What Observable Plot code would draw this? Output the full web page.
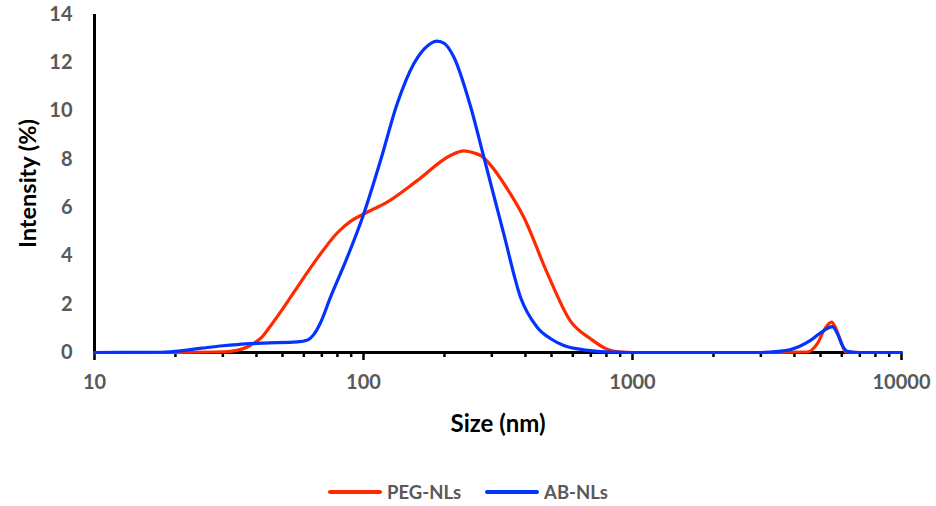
<!DOCTYPE html>
<html>
<head>
<meta charset="utf-8">
<script src="https://cdn.jsdelivr.net/npm/d3@7"></script>
<script src="https://cdn.jsdelivr.net/npm/@observablehq/plot@0.6"></script>
<style>
  body { margin: 0; background: #fff; font-family: Lato, "Open Sans", sans-serif; }
  #wrap { position: relative; width: 936px; height: 506px; }
  #legend { position: absolute; left: 0; top: 479px; width: 936px; height: 26px; display: flex; justify-content: center; align-items: center; gap: 0; font: bold 18.5px Lato, sans-serif; color: #595959; }
  .item { display: flex; align-items: center; margin: 0 12px; }
  .sw { width: 54px; height: 4px; margin-right: 5px; border-radius: 2px; }
</style>
</head>
<body>
<div id="wrap"><div id="chart"></div><div id="legend"></div></div>
<script>
// Series names and colours
const seriesNames = ["PEG-NLs", "AB-NLs"];
const seriesColors = ["#ff2a00", "#0433ff"];

// PEG-NLs (size nm, intensity %)
const pegSize = [10, 20, 28, 32, 35.5, 38, 42, 45.1, 50, 56.7, 67.3, 79.8, 90, 100.2, 122.5, 158.4, 210.5, 235.9, 260, 272.3, 300, 332.4, 394.4, 481.6, 588, 698, 800, 900, 1000, 3000, 4460, 4864, 5200, 5496, 5700, 5933, 6196, 7000, 10000];
const pegIntensity = [0, 0, 0.02, 0.05, 0.15, 0.3, 0.65, 1.1, 1.8, 2.7, 3.9, 4.95, 5.45, 5.74, 6.23, 7.12, 8.16, 8.35, 8.25, 8.16, 7.7, 7.0, 5.6, 3.3, 1.3, 0.57, 0.15, 0.02, 0, 0, 0.02, 0.37, 1.0, 1.26, 1.0, 0.5, 0.02, 0, 0];

// AB-NLs (size nm, intensity %)
const abSize = [10, 17, 20, 25, 30, 34, 42.6, 56.7, 62, 65.4, 69, 75.4, 87, 100.2, 115.7, 133.4, 153.8, 175, 187.9, 200, 216.6, 249.9, 280, 332.4, 383.4, 442, 500, 555.6, 650, 739, 900, 1000, 3000, 3258, 3865, 4590, 5129, 5525, 5781, 6023, 6286, 7000, 10000];
const abIntensity = [0, 0.01, 0.05, 0.18, 0.28, 0.33, 0.39, 0.44, 0.52, 0.75, 1.2, 2.29, 3.94, 5.74, 7.95, 10.3, 11.96, 12.75, 12.9, 12.8, 12.24, 10.2, 8.1, 4.9, 2.29, 1.05, 0.55, 0.29, 0.12, 0.05, 0.01, 0, 0, 0.02, 0.12, 0.5, 0.9, 1.07, 0.78, 0.3, 0.05, 0, 0];

// Axis ticks
const xMajorTicks = [10, 100, 1000, 10000];
const yTicks = [0, 2, 4, 6, 8, 10, 12, 14];
const xTitle = "Size (nm)";
const yTitle = "Intensity (%)";

const xMinorTicks = [];
for (const d of [10, 100, 1000]) for (let k = 2; k <= 9; k++) xMinorTicks.push(d * k);

const rows = [
  ...pegSize.map((s, i) => ({size: s, value: pegIntensity[i], series: seriesNames[0]})),
  ...abSize.map((s, i) => ({size: s, value: abIntensity[i], series: seriesNames[1]}))
];

const font = "Lato, 'Open Sans', sans-serif";

const chart = Plot.plot({
  width: 936,
  height: 479,
  marginLeft: 94,
  marginRight: 35,
  marginTop: 14,
  marginBottom: 127,
  style: {fontFamily: font, color: "#595959", background: "#fff", overflow: "visible"},
  x: {type: "log", domain: [10, 10000]},
  y: {domain: [0, 14]},
  color: {domain: seriesNames, range: seriesColors},
  marks: [
    Plot.axisX({ticks: xMinorTicks, tickSize: 5, tickFormat: () => "", stroke: "#000", strokeWidth: 2.5, label: null}),
    Plot.axisX({ticks: xMajorTicks, tickSize: 8, tickPadding: 14, tickFormat: d => String(d), stroke: "#000", strokeWidth: 2.5, fontSize: 20, fontWeight: "bold", fill: "#595959", label: null}),
    Plot.axisY({ticks: yTicks, tickSize: 0, tickPadding: 22, fontSize: 20, fontWeight: "bold", fill: "#595959", label: null}),
    Plot.ruleY([0], {stroke: "#000", strokeWidth: 3}),
    Plot.ruleX([10], {stroke: "#000", strokeWidth: 3}),
    Plot.text([xTitle], {frameAnchor: "bottom", dy: 72, fontSize: 24, fontWeight: "bold", fill: "#000", lineAnchor: "middle", textAnchor: "middle"}),
    Plot.text([yTitle], {frameAnchor: "left", rotate: -90, dx: -66, fontSize: 23.5, fontWeight: "bold", fill: "#000", lineAnchor: "middle", textAnchor: "middle"}),
    Plot.line(rows, {x: "size", y: "value", z: "series", stroke: "series", strokeWidth: 3.2, curve: "monotone-x"})
  ]
});
document.getElementById("chart").appendChild(chart);

const legend = document.getElementById("legend");
seriesNames.forEach((n, i) => {
  const it = document.createElement("div");
  it.className = "item";
  const sw = document.createElement("div");
  sw.className = "sw";
  sw.style.background = seriesColors[i];
  const lab = document.createElement("span");
  lab.textContent = n;
  it.appendChild(sw); it.appendChild(lab);
  legend.appendChild(it);
});
</script>
</body>
</html>
